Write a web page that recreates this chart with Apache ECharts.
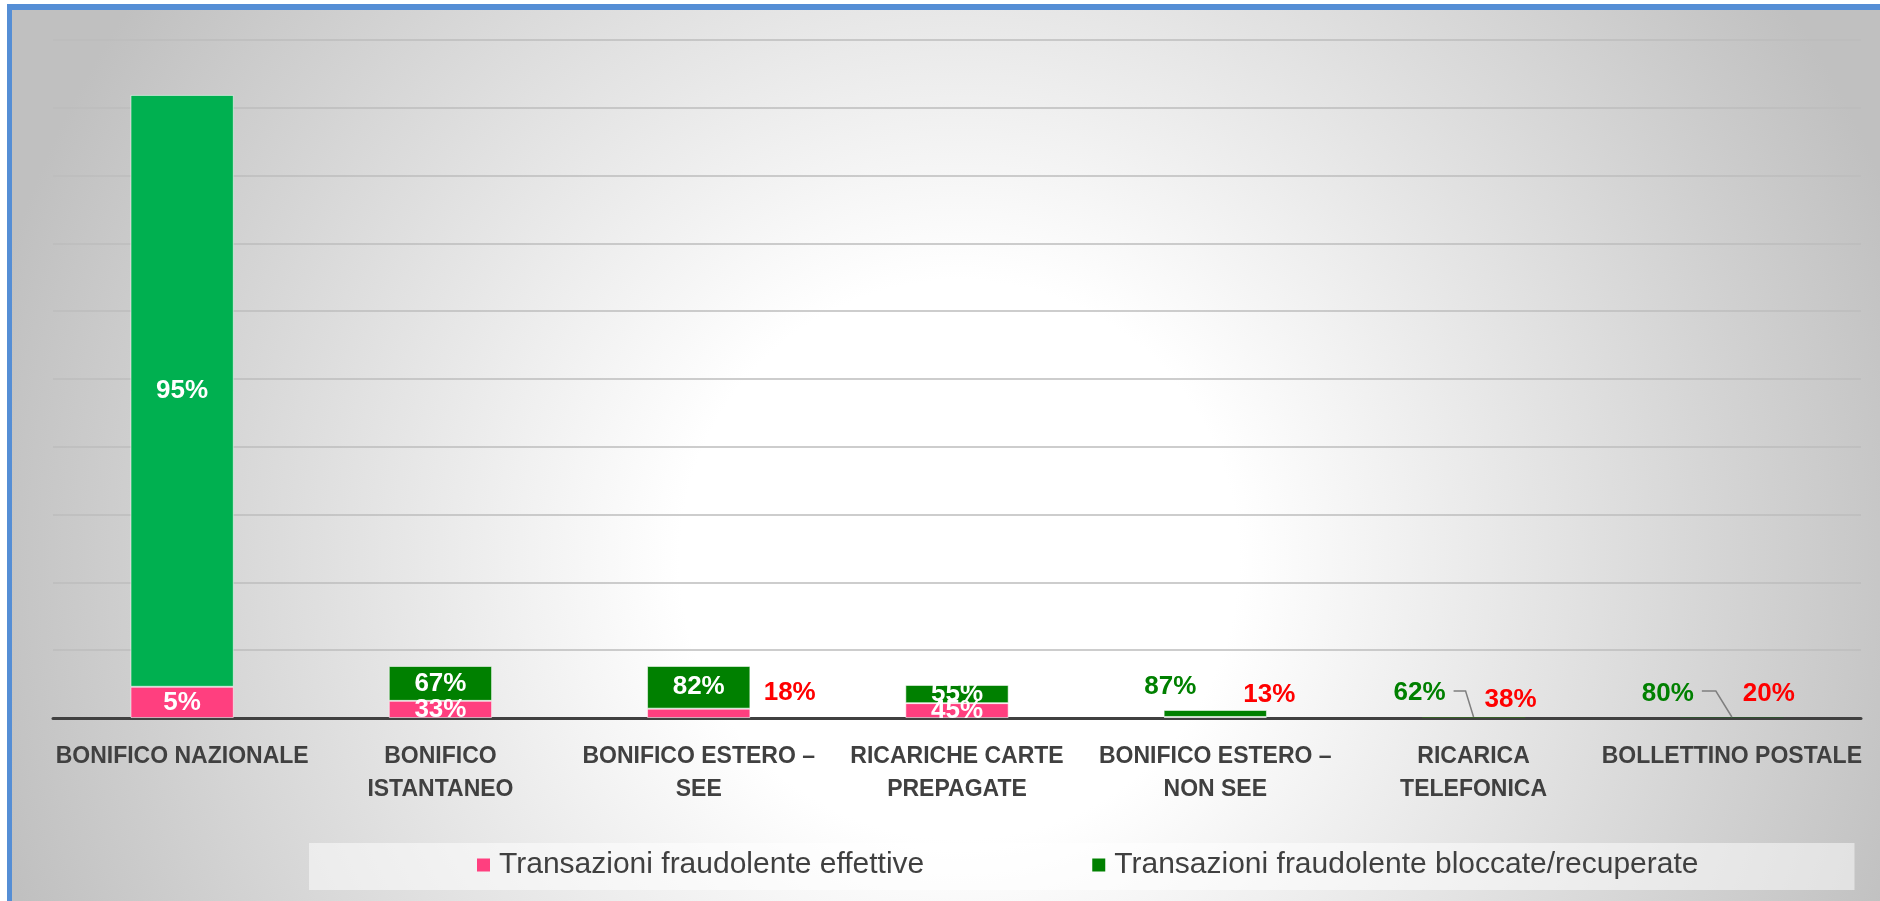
<!DOCTYPE html>
<html>
<head>
<meta charset="utf-8">
<script src="https://cdn.jsdelivr.net/npm/echarts@6/dist/echarts.min.js"></script>
<style>
html,body{margin:0;padding:0;background:#fff;width:1880px;height:901px;overflow:hidden}
#frame{position:absolute;left:7px;top:4px;width:1873px;height:897px;border-left:5px solid #558ED5;border-top:6px solid #558ED5;box-sizing:border-box}
#chart{position:absolute;left:0;top:0;width:1868px;height:891px}
</style>
</head>
<body>
<div id="frame"><div id="chart"></div></div>
<script>
// ---- data ----
const categories = [
  'BONIFICO NAZIONALE',
  'BONIFICO\nISTANTANEO',
  'BONIFICO ESTERO –\nSEE',
  'RICARICHE CARTE\nPREPAGATE',
  'BONIFICO ESTERO –\nNON SEE',
  'RICARICA\nTELEFONICA',
  'BOLLETTINO POSTALE'
];
const seriesNames = ['Transazioni fraudolente effettive', 'Transazioni fraudolente bloccate/recuperate'];
const effettive = [460, 253, 138, 219, 15, 4, 1];
const bloccate  = [8730, 514, 629, 268, 103, 6, 4];
const pctEffettive = [5, 33, 18, 45, 13, 38, 20];
const pctBloccate  = [95, 67, 82, 55, 87, 62, 80];
const leaderCategories = ['RICARICA\nTELEFONICA', 'BOLLETTINO POSTALE'];

// ---- styling / placement ----
const FONT = "'Liberation Sans', Arial, sans-serif";
const PINK = '#FF3F7F', GREEN = '#008000', GREEN_BRIGHT = '#00B050', RED = '#FF0000';
const outsideEff = {2: [91, 2], 4: [54, -4], 5: [37, 0], 6: [37, -6]};
const outsideBlo = {4: [-45, -5], 5: [-54, -6], 6: [-64, -6]};
const leaderOffsets = {5: [-20, -27, -8, -27], 6: [-30, -27, -16, -27]};
const noBorder = [5, 6];

function buildData(values, outside, colorOut, special) {
  return values.map((v, i) => {
    const item = { value: v };
    if (outside[i]) {
      item.label = { position: 'top', color: colorOut, offset: outside[i] };
    }
    const st = Object.assign({}, (special && special[i]) || {});
    if (noBorder.indexOf(i) >= 0) st.borderWidth = 0;
    if (Object.keys(st).length) item.itemStyle = st;
    return item;
  });
}

const labelBase = {
  show: true, position: 'inside', color: '#fff', fontFamily: FONT,
  fontWeight: 'bold', fontSize: 26
};

const chart = echarts.init(document.getElementById('chart'));
chart.setOption({
  backgroundColor: {
    type: 'radial', x: 0.507, y: 0.617, r: 1.12,
    colorStops: [
      { offset: 0, color: '#ffffff' },
      { offset: 0.28, color: '#ffffff' },
      { offset: 1, color: '#c0c0c0' }
    ]
  },
  animation: false,
  grid: { left: 41, right: 19, top: 30, bottom: 183 },
  legend: {
    data: seriesNames,
    left: 297, top: 833,
    padding: [7, 156, 10, 168],
    backgroundColor: 'rgba(255,255,255,0.5)',
    icon: 'rect', itemWidth: 13, itemHeight: 13, itemGap: 168,
    itemStyle: { borderWidth: 0 },
    textStyle: { fontFamily: FONT, fontSize: 30, color: '#404040', padding: [0, 0, 0, 4] }
  },
  xAxis: {
    type: 'category', data: categories,
    axisLine: { lineStyle: { color: '#404040', width: 3 } },
    axisTick: { show: false },
    axisLabel: {
      interval: 0, margin: 22, color: '#404040', fontFamily: FONT,
      fontWeight: 'bold', fontSize: 23, lineHeight: 33
    }
  },
  yAxis: {
    type: 'value', min: 0, max: 10000, interval: 1000,
    axisLabel: { show: false }, axisLine: { show: false }, axisTick: { show: false },
    splitLine: { lineStyle: { color: '#bcbcbc', width: 1.5 } }
  },
  series: [
    {
      name: seriesNames[0], type: 'bar', stack: 'tot', barCategoryGap: '60%',
      itemStyle: { color: PINK, borderColor: 'rgba(255,255,255,0.55)', borderWidth: 1 },
      label: Object.assign({}, labelBase, { formatter: p => pctEffettive[p.dataIndex] + '%' }),
      data: buildData(effettive, outsideEff, RED)
    },
    {
      name: seriesNames[1], type: 'bar', stack: 'tot', barCategoryGap: '60%',
      itemStyle: { color: GREEN, borderColor: 'rgba(255,255,255,0.55)', borderWidth: 1 },
      label: Object.assign({}, labelBase, { formatter: p => pctBloccate[p.dataIndex] + '%' }),
      data: buildData(bloccate, outsideBlo, GREEN, { 0: { color: GREEN_BRIGHT } })
    },
    {
      type: 'custom', silent: true, z: 3,
      data: leaderCategories.map(c => [categories.indexOf(c), 0]),
      encode: { x: 0, y: 1 },
      renderItem: function (params, api) {
        const i = api.value(0);
        const p = api.coord([i, 0]);
        const o = leaderOffsets[i];
        return {
          type: 'polyline',
          shape: { points: [[p[0] + o[0], p[1] + o[1]], [p[0] + o[2], p[1] + o[3]], [p[0], p[1] - 1]] },
          style: { stroke: '#7f7f7f', lineWidth: 1.5, fill: null }
        };
      }
    }
  ]
});
</script>
</body>
</html>
